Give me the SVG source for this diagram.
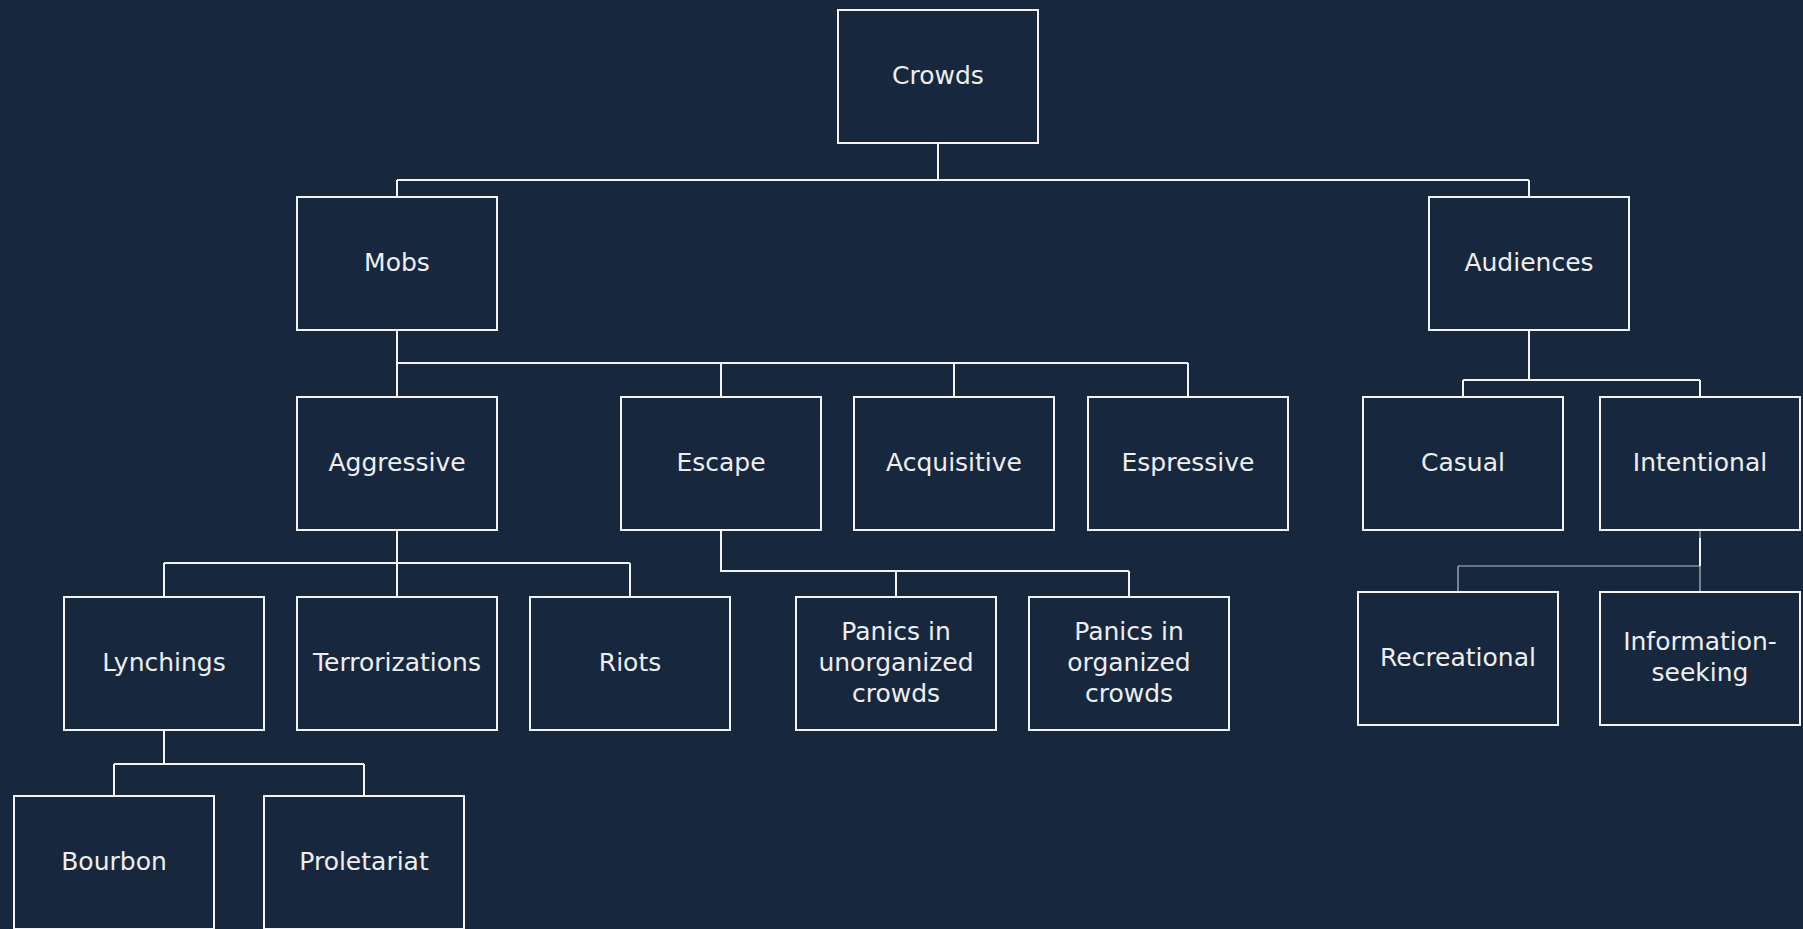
<svg xmlns="http://www.w3.org/2000/svg" width="1803" height="929" viewBox="0 0 1803 929">
<style>
.bg{fill:#17283e}
.box{fill:#17283e;stroke:#f4f4f4;stroke-width:2}
.t{font-family:"DejaVu Sans",Verdana,sans-serif;font-size:25px;fill:#eeeeee;text-anchor:middle}
.c{fill:none;stroke:#f4f4f4;stroke-width:2}
.c2{fill:none;stroke:#b8bec8;stroke-width:1.2}
</style>
<rect class="bg" x="0" y="0" width="1803" height="929"/>
<g id="connectors">
<path class="c" d="M938 143V180M397 180H1529M397 180V197M1529 180V197"/>
<path class="c" d="M397 330V363M397 363H1188M397 363V397M721 363V397M954 363V397M1188 363V397"/>
<path class="c" d="M1529 330V380M1463 380H1700M1463 380V397M1700 380V397"/>
<path class="c" d="M397 530V597M164 563H630M164 563V597M630 563V597"/>
<path class="c" d="M721 530V571H1129M896 571V597M1129 571V597"/>
<path class="c" d="M164 730V764M114 764H364M114 764V796M364 764V796"/>
<path class="c2" d="M1700 530V592M1458 566H1700M1458 566V592"/>
<path class="c" d="M1700 538V566"/>
</g>
<g id="crowds"><rect class="box" x="838" y="10" width="200" height="133"/><text class="t" x="938" y="84">Crowds</text></g>
<g id="mobs"><rect class="box" x="297" y="197" width="200" height="133"/><text class="t" x="397" y="271">Mobs</text></g>
<g id="audiences"><rect class="box" x="1429" y="197" width="200" height="133"/><text class="t" x="1529" y="271">Audiences</text></g>
<g id="aggressive"><rect class="box" x="297" y="397" width="200" height="133"/><text class="t" x="397" y="471">Aggressive</text></g>
<g id="escape"><rect class="box" x="621" y="397" width="200" height="133"/><text class="t" x="721" y="471">Escape</text></g>
<g id="acquisitive"><rect class="box" x="854" y="397" width="200" height="133"/><text class="t" x="954" y="471">Acquisitive</text></g>
<g id="espressive"><rect class="box" x="1088" y="397" width="200" height="133"/><text class="t" x="1188" y="471">Espressive</text></g>
<g id="casual"><rect class="box" x="1363" y="397" width="200" height="133"/><text class="t" x="1463" y="471">Casual</text></g>
<g id="intentional"><rect class="box" x="1600" y="397" width="200" height="133"/><text class="t" x="1700" y="471">Intentional</text></g>
<g id="lynchings"><rect class="box" x="64" y="597" width="200" height="133"/><text class="t" x="164" y="671">Lynchings</text></g>
<g id="terrorizations"><rect class="box" x="297" y="597" width="200" height="133"/><text class="t" x="397" y="671">Terrorizations</text></g>
<g id="riots"><rect class="box" x="530" y="597" width="200" height="133"/><text class="t" x="630" y="671">Riots</text></g>
<g id="panics-unorganized"><rect class="box" x="796" y="597" width="200" height="133"/><text class="t" x="896" y="640">Panics in</text><text class="t" x="896" y="671">unorganized</text><text class="t" x="896" y="702">crowds</text></g>
<g id="panics-organized"><rect class="box" x="1029" y="597" width="200" height="133"/><text class="t" x="1129" y="640">Panics in</text><text class="t" x="1129" y="671">organized</text><text class="t" x="1129" y="702">crowds</text></g>
<g id="recreational"><rect class="box" x="1358" y="592" width="200" height="133"/><text class="t" x="1458" y="666">Recreational</text></g>
<g id="information-seeking"><rect class="box" x="1600" y="592" width="200" height="133"/><text class="t" x="1700" y="650">Information-</text><text class="t" x="1700" y="681">seeking</text></g>
<g id="bourbon"><rect class="box" x="14" y="796" width="200" height="133"/><text class="t" x="114" y="870">Bourbon</text></g>
<g id="proletariat"><rect class="box" x="264" y="796" width="200" height="133"/><text class="t" x="364" y="870">Proletariat</text></g>
</svg>
